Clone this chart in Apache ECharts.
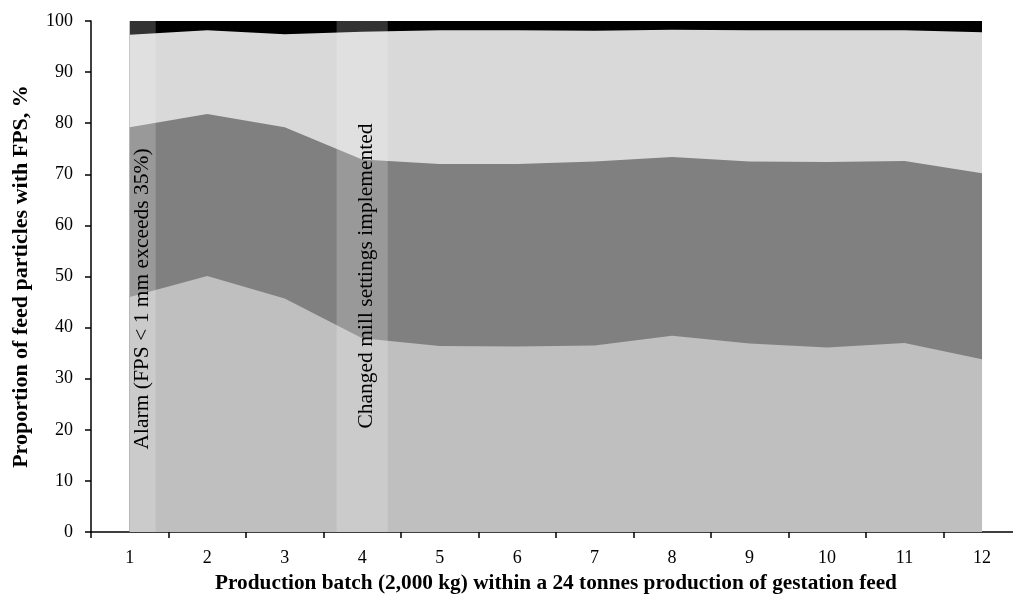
<!DOCTYPE html>
<html>
<head>
<meta charset="utf-8">
<script src="https://cdn.jsdelivr.net/npm/echarts@6/dist/echarts.min.js"></script>
<style>
html,body{margin:0;padding:0;background:#fff;}
#chart{width:1013px;height:601px;}
</style>
</head>
<body>
<div id="chart"></div>
<script>
var categories = ['1','2','3','4','5','6','7','8','9','10','11','12'];
// stacked shares (%) of feed particles by particle-size class
var sizeClassA = [46.0, 50.1, 45.7, 37.9, 36.4, 36.3, 36.5, 38.4, 36.9, 36.1, 37.0, 33.8];
var sizeClassB = [33.2, 31.7, 33.5, 35.0, 35.6, 35.7, 36.0, 35.0, 35.6, 36.3, 35.6, 36.4];
var sizeClassC = [18.1, 16.4, 18.2, 25.0, 26.2, 26.2, 25.6, 24.9, 25.7, 25.8, 25.6, 27.6];
var sizeClassD = [2.7, 1.8, 2.6, 2.1, 1.8, 1.8, 1.9, 1.7, 1.8, 1.8, 1.8, 2.2];
var seriesNames = ['Class A', 'Class B', 'Class C', 'Class D'];
// event bands (batch positions) and their labels
var bandStart = [1.0, 3.67];
var bandEnd = [1.335, 4.33];
var bandLabelX = [1.16, 4.05];
var bandLabelY = [45.6, 50.1];
var bandLabels = ['Alarm (FPS < 1 mm exceeds 35%)', 'Changed mill settings implemented'];
var yTicks = [0, 100, 10];
// x range: half a batch before the first one, axis cut by the page edge
var xRange = [0.5, 12.4];

var serif = '"Liberation Serif", "Times New Roman", serif';
var colors = ['#bfbfbf', '#808080', '#d9d9d9', '#000000'];
var values = [sizeClassA, sizeClassB, sizeClassC, sizeClassD];
var batchNums = categories.map(Number);
var tickVals = batchNums.map(function (b) { return b - 0.5; });

// running totals: each layer is drawn as its cumulative top, filled down to 0,
// upper layers first so lower layers paint over them
var running = batchNums.map(function () { return 0; });
var cumulative = values.map(function (v) {
  running = running.map(function (r, k) { return r + v[k]; });
  return running.slice();
});

var series = [];
for (var i = values.length - 1; i >= 0; i--) {
  series.push({
    name: seriesNames[i],
    type: 'line',
    data: cumulative[i].map(function (y, k) { return [batchNums[k], y]; }),
    symbol: 'none',
    lineStyle: { width: 0 },
    areaStyle: { color: colors[i], opacity: 1, origin: 'start' },
    silent: true,
    z: 2 + (values.length - i) * 0.1
  });
}

var bandData = bandStart.map(function (s, i) {
  return [s, bandEnd[i], bandLabelX[i], bandLabelY[i]];
});

series.push({
  type: 'custom',
  xAxisIndex: 0,
  yAxisIndex: 0,
  z: 5,
  silent: true,
  clip: false,
  data: bandData,
  renderItem: function (params, api) {
    var p0 = api.coord([api.value(0), yTicks[1]]);
    var p1 = api.coord([api.value(1), yTicks[0]]);
    var t = api.coord([api.value(2), api.value(3)]);
    return {
      type: 'group',
      children: [
        {
          type: 'rect',
          shape: { x: p0[0], y: p0[1], width: p1[0] - p0[0], height: p1[1] - p0[1] },
          style: { fill: 'rgba(255,255,255,0.2)' }
        },
        {
          type: 'text',
          x: t[0],
          y: t[1],
          rotation: Math.PI / 2,
          style: {
            text: bandLabels[params.dataIndex],
            fill: '#000',
            font: '21.5px ' + serif,
            align: 'center',
            verticalAlign: 'middle'
          }
        }
      ]
    };
  }
});

var chart = echarts.init(document.getElementById('chart'), null, { renderer: 'canvas' });
chart.setOption({
  animation: false,
  backgroundColor: '#fff',
  grid: { left: 91, top: 21, right: 0, bottom: 69, containLabel: false },
  xAxis: {
    type: 'value',
    min: xRange[0],
    max: xRange[1],
    axisLine: { show: true, lineStyle: { color: '#000', width: 1.5 } },
    axisTick: { show: true, length: 6, customValues: tickVals, lineStyle: { color: '#000', width: 1.5 } },
    axisLabel: {
      color: '#000', fontFamily: serif, fontSize: 18, margin: 17,
      customValues: batchNums,
      formatter: function (v) { return categories[batchNums.indexOf(v)] || ''; }
    },
    splitLine: { show: false },
    name: 'Production batch (2,000 kg) within a 24 tonnes production of gestation feed',
    nameLocation: 'middle',
    nameGap: 41,
    nameTextStyle: { color: '#000', fontFamily: serif, fontSize: 21.3, fontWeight: 'bold', padding: [0, 0, 0, 8] }
  },
  yAxis: {
    type: 'value',
    min: yTicks[0],
    max: yTicks[1],
    interval: yTicks[2],
    axisLine: { show: true, lineStyle: { color: '#000', width: 1.5 } },
    axisTick: { show: true, length: 6, lineStyle: { color: '#000', width: 1.5 } },
    axisLabel: { color: '#000', fontFamily: serif, fontSize: 18, margin: 18 },
    splitLine: { show: false },
    name: 'Proportion of feed particles with FPS, %',
    nameLocation: 'middle',
    nameGap: 59,
    nameTextStyle: { color: '#000', fontFamily: serif, fontSize: 22, fontWeight: 'bold' }
  },
  series: series
});
</script>
</body>
</html>
